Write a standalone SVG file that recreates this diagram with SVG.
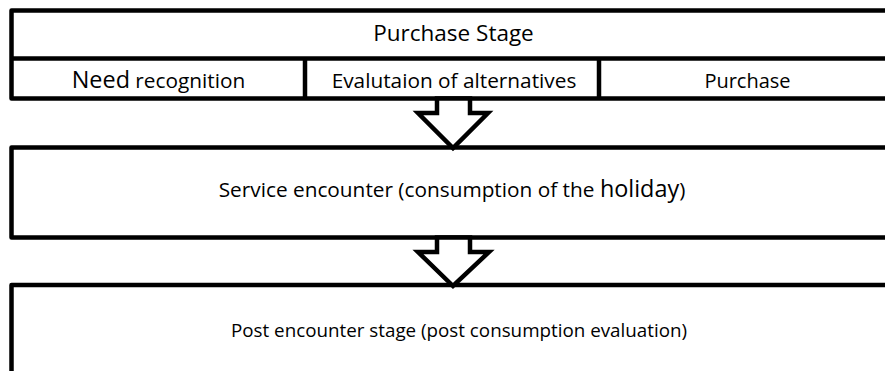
<svg xmlns="http://www.w3.org/2000/svg" width="885" height="371" viewBox="0 0 885 371">
<style>
.box{fill:#fff;stroke:#000;stroke-width:4.5;stroke-linejoin:round}
.ln{fill:none;stroke:#000;stroke-width:4.5}
.arr{fill:#fff;stroke:#000;stroke-width:4.5;stroke-linejoin:miter}
text{font-family:"Open Sans","Liberation Sans",sans-serif;fill:#000;text-anchor:middle}
.t{font-size:20.8px}
.b{font-size:23.4px}
</style>
<rect width="885" height="371" fill="#fff"/>
<g id="purchase-stage">
<rect class="box" x="11.5" y="10.5" width="900" height="88"/>
<line class="ln" x1="11.5" y1="58.5" x2="900" y2="58.5"/>
<text x="453.5" y="41" font-size="22.5">Purchase Stage</text>
</g>
<g id="need-recognition">
<line class="ln" x1="305" y1="58.5" x2="305" y2="98.5"/>
<text x="158.5" y="88"><tspan class="b">Need</tspan><tspan class="t"> recognition</tspan></text>
</g>
<g id="evaluation">
<line class="ln" x1="599" y1="58.5" x2="599" y2="98.5"/>
<text class="t" x="454" y="88">Evalutaion of alternatives</text>
</g>
<g id="purchase">
<text x="747.5" y="88" font-size="20">Purchase</text>
</g>
<g id="service-encounter">
<rect class="box" x="11.5" y="147.5" width="900" height="90"/>
<text class="t" x="452" y="197">Service encounter (consumption of the <tspan class="b">holiday</tspan>)</text>
</g>
<g id="post-encounter">
<rect class="box" x="11.5" y="285" width="900" height="120"/>
<text x="459" y="337" font-size="18.8">Post encounter stage (post consumption evaluation)</text>
</g>
<g id="connectors">
<polygon class="arr" points="437,98.5 470,98.5 470,113 488,113 453,148 418,113 437,113"/>
<polygon class="arr" points="437,237.5 470,237.5 470,252 489,252 453,286 418,252 437,252"/>
</g>
</svg>
